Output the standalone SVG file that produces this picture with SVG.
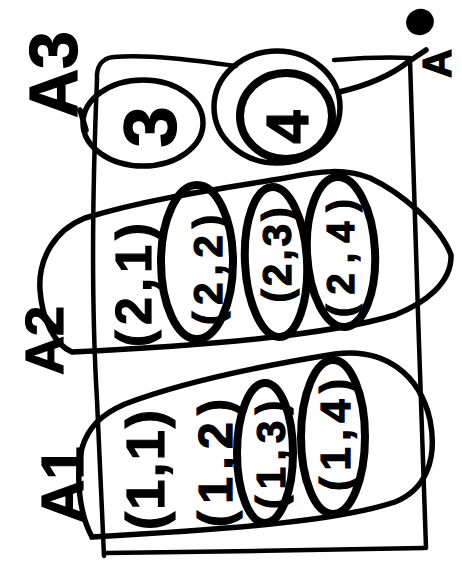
<svg xmlns="http://www.w3.org/2000/svg" width="462" height="575" viewBox="0 0 462 575">
<style>
.ink{fill:none;stroke:#000;stroke-linecap:round;stroke-linejoin:round}
.thin{stroke-width:4.5}
.mid{stroke-width:5.5}
.thick{stroke-width:8}
text{font-family:"Liberation Sans","DejaVu Sans",Arial,sans-serif;font-weight:bold;fill:#000;stroke:#000;stroke-width:1.2}
.c{text-anchor:middle;dominant-baseline:central}
</style>
<rect width="462" height="575" fill="#fff"/>
<g id="sample-space">
<path class="ink thin" d="M97,80 C96,66 102,58 114,57 C150,54 200,61 236,66"/>
<path class="ink thin" d="M334,60 C360,58 390,57 410,58"/>
<path class="ink thin" d="M97,80 C92,200 91,300 97,400 L104,556"/>
<path class="ink thin" d="M410,60 C415,200 420,400 426,548"/>
<path class="ink thin" d="M106,553 C200,552 330,550 424,548"/>
</g>
<g id="A3">
<text transform="translate(77,118) rotate(-90)" font-size="68">A3</text>
<path class="ink mid" d="M80,110 L86,130"/>
</g>
<g id="node-3">
<ellipse class="ink mid" cx="143" cy="123" rx="60" ry="43"/>
<text class="c" transform="translate(150,127) rotate(-90)" font-size="74">3</text>
</g>
<g id="node-4">
<ellipse class="ink mid" cx="277" cy="107" rx="63" ry="56"/>
<ellipse class="ink thick" cx="286" cy="116" rx="46" ry="43"/>
<text class="c" transform="translate(287,127) rotate(-90)" font-size="60">4</text>
</g>
<g id="A-top">
<text transform="translate(451,78) rotate(-90)" font-size="40">A</text>
<ellipse cx="420" cy="22" rx="14" ry="13" fill="#000" transform="rotate(-20 420 22)"/>
</g>
<g id="A2">
<text transform="translate(63,375) rotate(-90)" font-size="54">A2</text>
<path class="ink mid" d="M72,352 C55,345 42,320 40,290 C38,258 55,230 85,218 C150,198 225,188 285,178 C320,171 345,168 370,178 C400,192 440,225 451,255 C452,283 425,303 395,315 C330,335 200,346 72,352 Z"/>
</g>
<g id="node-2-1">
<text class="c" transform="translate(134,285) rotate(-90)" font-size="50" textLength="124" lengthAdjust="spacing">(2,1)</text>
</g>
<g id="node-2-2">
<ellipse class="ink thick" cx="197" cy="262" rx="36" ry="77"/>
<text class="c" transform="translate(208,270) rotate(-90)" font-size="40" textLength="110" lengthAdjust="spacing">(2,2)</text>
</g>
<g id="node-2-3">
<ellipse class="ink thick" cx="276" cy="262" rx="31" ry="75" transform="rotate(-3 276 262)"/>
<text class="c" transform="translate(277,255) rotate(-90)" font-size="40" textLength="95" lengthAdjust="spacing">(2,3)</text>
</g>
<g id="node-2-4">
<ellipse class="ink thick" cx="341" cy="252" rx="34" ry="75" transform="rotate(-3 341 252)"/>
<text class="c" transform="translate(341,258) rotate(-90)" font-size="38" textLength="118" lengthAdjust="spacing">(2,4)</text>
</g>
<g id="A1">
<text transform="translate(83,523) rotate(-90)" font-size="60">A1</text>
<path class="ink mid" d="M92,537 C80,515 75,478 82,448 C88,428 100,415 125,404 C180,383 260,366 335,354 C385,347 420,375 430,420 C438,460 425,490 395,502 C340,520 250,528 92,537"/>
</g>
<g id="node-1-1">
<text class="c" transform="translate(145,470) rotate(-90)" font-size="54" textLength="120" lengthAdjust="spacing">(1,1)</text>
</g>
<g id="node-1-2">
<text class="c" transform="translate(215,463) rotate(-90)" font-size="48" textLength="128" lengthAdjust="spacing">(1,2)</text>
</g>
<g id="node-1-3">
<ellipse class="ink thick" cx="265" cy="453" rx="28" ry="70"/>
<text class="c" transform="translate(271,455) rotate(-90)" font-size="40" textLength="108" lengthAdjust="spacing">(1,3)</text>
</g>
<g id="node-1-4">
<ellipse class="ink thick" cx="333" cy="437" rx="32" ry="77"/>
<text class="c" transform="translate(335,435) rotate(-90)" font-size="42" textLength="112" lengthAdjust="spacing">(1,4)</text>
</g>
<g id="connectors">
<path class="ink mid" d="M339,92 C365,86 390,76 408,62 L426,50"/>
</g>
</svg>
